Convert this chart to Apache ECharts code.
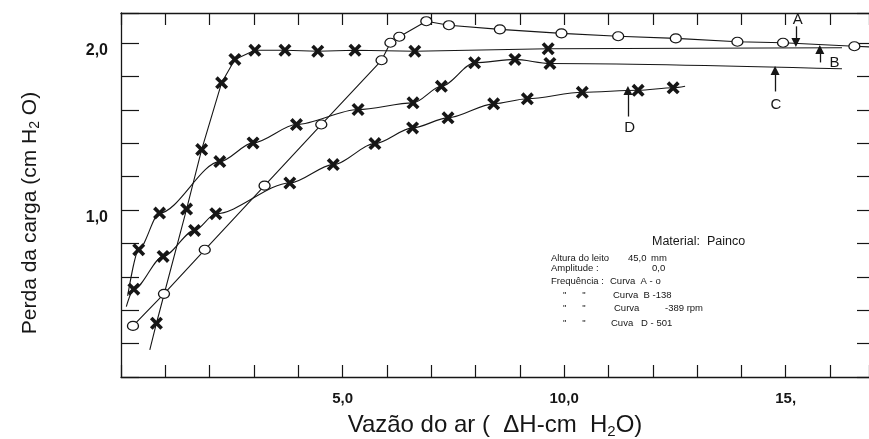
<!DOCTYPE html>
<html><head><meta charset="utf-8">
<script src="https://cdn.jsdelivr.net/npm/echarts@6/dist/echarts.min.js"></script>
<style>html,body{margin:0;padding:0;background:#fff}#c{width:869px;height:439px}</style>
</head><body><div id="c"></div>
<script>
// Tick labels
const xTickLabels = {5: '5,0', 10: '10,0', 15: '15,'};
const yTickLabels = {1: '1,0', 2: '2,0'};

// Curve A (circles) – 1 = marker drawn, 0 = line only
const aX = [0.27, 0.97, 1.89, 3.24, 4.52, 5.88, 6.08, 6.28, 6.89, 7.40, 8.55, 9.94, 11.22, 12.52, 13.91, 14.94, 16.55, 16.88];
const aY = [0.306, 0.498, 0.762, 1.146, 1.512, 1.897, 2.002, 2.038, 2.131, 2.107, 2.082, 2.058, 2.041, 2.028, 2.008, 2.002, 1.981, 1.977];
const aMark = [1,1,1,1,1,1,1,1,1,1,1,1,1,1,1,1,1,0];

// Curve B (crosses)
const bX = [0.65, 0.80, 1.48, 1.82, 2.27, 2.57, 3.02, 3.70, 4.44, 5.28, 6.63, 9.64, 16.27];
const bY = [0.162, 0.322, 1.006, 1.362, 1.762, 1.902, 1.957, 1.957, 1.951, 1.957, 1.951, 1.966, 1.972];
const bMark = [0,1,1,1,1,1,1,1,1,1,1,1,0];

// Curve C (crosses)
const cX = [0.15, 0.40, 0.87, 2.23, 2.98, 3.96, 5.35, 6.59, 7.23, 7.98, 8.89, 9.68, 16.27];
const cY = [0.486, 0.762, 0.982, 1.290, 1.402, 1.512, 1.602, 1.642, 1.741, 1.882, 1.902, 1.878, 1.846];
const cMark = [0,1,1,1,1,1,1,1,1,1,1,1,0];

// Curve D (crosses)
const dX = [0.12, 0.29, 0.95, 1.66, 2.14, 3.81, 4.79, 5.73, 6.58, 7.38, 8.41, 9.17, 10.41, 11.67, 12.46, 12.73];
const dY = [0.422, 0.526, 0.722, 0.878, 0.978, 1.162, 1.272, 1.398, 1.492, 1.552, 1.636, 1.666, 1.705, 1.717, 1.732, 1.741];
const dMark = [0,1,1,1,1,1,1,1,1,1,1,1,1,1,1,0];

// Curve-label arrows
const arrowLabels = ['A', 'B', 'C', 'D'];
const arrowX = [15.23, 15.77, 14.76, 11.44];
const arrowFromY = [2.10, 1.884, 1.71, 1.56];
const arrowToY = [2.004, 1.962, 1.836, 1.716];
const labelX = [15.27, 16.10, 14.78, 11.48];
const labelY = [2.14, 1.88, 1.63, 1.49];

const FONT = '"Liberation Sans", Arial, sans-serif';
const INK = '#161616';
const crossPath = 'path://M1,3 L3,1 L6,4 L9,1 L11,3 L8,6 L11,9 L9,11 L6,8 L3,11 L1,9 L4,6 Z';

function buildData(xs, ys, marks) {
  return xs.map((x, i) => marks[i] ? [x, ys[i]] : {value: [x, ys[i]], symbol: 'none'});
}

function curve(name, xs, ys, marks, opts) {
  return Object.assign({
    name, type: 'line', data: buildData(xs, ys, marks),
    lineStyle: {color: INK, width: 1.1},
    symbol: crossPath, symbolSize: 13,
    itemStyle: {color: INK},
    showAllSymbol: true, animation: false, clip: true
  }, opts || {});
}

const chart = echarts.init(document.getElementById('c'), null, {renderer: 'canvas'});

const yMax = 2.18, xMax = 16.88;
const axisLine = {show: true, onZero: false, lineStyle: {color: INK, width: 1.3}};
const tick = len => ({show: true, inside: true, length: len, lineStyle: {color: INK, width: 1.2}});
const small = '9.5px ' + FONT;

const option = {
  backgroundColor: '#fff',
  animation: false,
  grid: {left: 121, right: 0, top: 13, bottom: 62, containLabel: false, outerBoundsMode: 'none'},
  xAxis: [{
    type: 'value', min: 0, max: xMax, interval: 1, position: 'bottom',
    axisLine, splitLine: {show: false}, axisTick: tick(12),
    axisLabel: {
      margin: 14, color: INK, fontFamily: FONT, fontSize: 15, fontWeight: 'bold',
      formatter: v => xTickLabels[Math.round(v * 1000) / 1000] || ''
    },
    name: 'Vazão do ar (  ΔH-cm  H{s|2}O)',
    nameLocation: 'middle', nameGap: 35,
    nameTextStyle: {
      fontFamily: FONT, fontSize: 24, color: INK,
      rich: {s: {fontFamily: FONT, fontSize: 15, color: INK, verticalAlign: 'bottom', padding: [12, 0, 0, 0]}}
    }
  }, {
    type: 'value', min: 0, max: xMax, interval: 1, position: 'top',
    axisLine, splitLine: {show: false}, axisTick: tick(12),
    axisLabel: {show: false}
  }],
  yAxis: [{
    type: 'value', min: 0, max: yMax, interval: 0.2, position: 'left',
    axisLine, splitLine: {show: false}, axisTick: tick(18),
    axisLabel: {
      margin: 13, color: INK, fontFamily: FONT, fontSize: 16, fontWeight: 'bold',
      verticalAlign: 'top',
      formatter: v => yTickLabels[Math.round(v * 1000) / 1000] || ''
    }
  }, {
    type: 'value', min: 0, max: yMax, interval: 0.2, position: 'right',
    axisLine: {show: false, onZero: false}, splitLine: {show: false}, axisTick: tick(12),
    axisLabel: {show: false}
  }],
  graphic: [
    {type: 'text', x: 30, y: 213, rotation: Math.PI / 2,
     style: {text: 'Perda da carga (cm H{s|2} O)', fill: INK, font: '21px ' + FONT,
       align: 'center', verticalAlign: 'middle',
       rich: {s: {fontSize: 14, fill: INK, verticalAlign: 'bottom', padding: [11, 0, 0, 0]}}}},
    {type: 'text', left: 652, top: 235, style: {text: 'Material:  Painco', fill: INK, font: '12.5px ' + FONT}},
    {type: 'text', left: 551, top: 253, style: {text: 'Altura do leito', fill: INK, font: small}},
    {type: 'text', left: 628, top: 253, style: {text: '45,0', fill: INK, font: small}},
    {type: 'text', left: 651, top: 253, style: {text: 'mm', fill: INK, font: small}},
    {type: 'text', left: 551, top: 263, style: {text: 'Amplitude :', fill: INK, font: small}},
    {type: 'text', left: 652, top: 263, style: {text: '0,0', fill: INK, font: small}},
    {type: 'text', left: 551, top: 276, style: {text: 'Frequência :', fill: INK, font: small}},
    {type: 'text', left: 610, top: 276, style: {text: 'Curva  A - o', fill: INK, font: small}},
    {type: 'text', left: 563, top: 290, style: {text: '"      "', fill: INK, font: small}},
    {type: 'text', left: 613, top: 290, style: {text: 'Curva  B -138', fill: INK, font: small}},
    {type: 'text', left: 563, top: 303, style: {text: '"      "', fill: INK, font: small}},
    {type: 'text', left: 614, top: 303, style: {text: 'Curva', fill: INK, font: small}},
    {type: 'text', left: 665, top: 303, style: {text: '-389 rpm', fill: INK, font: small}},
    {type: 'text', left: 563, top: 318, style: {text: '"      "', fill: INK, font: small}},
    {type: 'text', left: 611, top: 318, style: {text: 'Cuva   D - 501', fill: INK, font: small}}
  ],
  series: [
    curve('A', aX, aY, aMark, {
      symbol: 'circle', symbolSize: [11, 9],
      itemStyle: {color: '#fff', borderColor: INK, borderWidth: 1.2}
    }),
    curve('B', bX, bY, bMark, {
      markLine: {
        silent: true, symbol: ['none', 'triangle'], symbolSize: 9,
        lineStyle: {color: INK, width: 1.3, type: 'solid'},
        label: {show: false},
        data: arrowLabels.map((n, i) => [{coord: [arrowX[i], arrowFromY[i]]}, {coord: [arrowX[i], arrowToY[i]]}])
      },
      markPoint: {
        silent: true, symbol: 'rect', symbolSize: 1,
        itemStyle: {color: 'rgba(0,0,0,0)'},
        label: {show: true, position: 'inside', formatter: '{b}', color: INK, fontFamily: FONT, fontSize: 15},
        data: arrowLabels.map((n, i) => ({name: n, coord: [labelX[i], labelY[i]]}))
      }
    }),
    curve('C', cX, cY, cMark, {smooth: 0.3, smoothMonotone: 'x'}),
    curve('D', dX, dY, dMark, {smooth: 0.3, smoothMonotone: 'x'})
  ]
};
chart.setOption(option);
</script>
</body></html>
